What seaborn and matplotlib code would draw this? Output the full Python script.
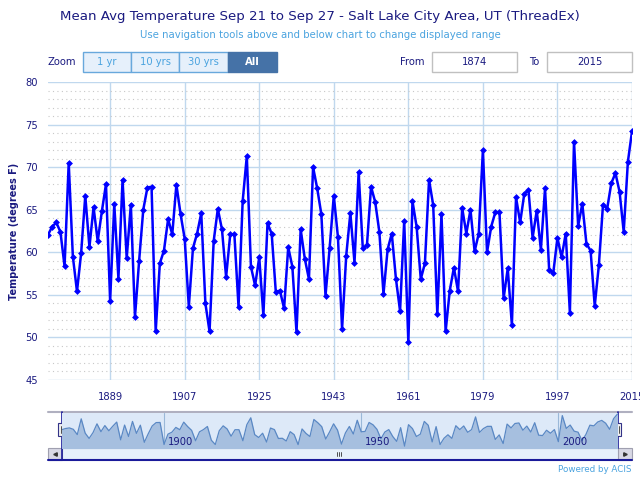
import matplotlib
matplotlib.use("Agg")
import matplotlib.pyplot as plt
import matplotlib.patches as mpatches
import numpy as np
import pandas as pd
import seaborn as sns

# Mean avg temperature Sep 21-27, Salt Lake City Area
years = list(range(1874, 2016))
temps = [
    62.05, 63.0, 63.5, 62.4, 58.35, 70.5, 59.5, 55.4, 59.9, 66.65,
    60.6, 65.3, 61.3, 64.8, 68.0, 54.3, 65.7, 56.9, 68.5, 59.3,
    65.6, 52.4, 59.0, 65.0, 67.6, 67.7, 50.7, 58.7, 60.2, 63.9,
    62.1, 67.95, 64.5, 61.6, 53.6, 60.5, 62.2, 64.6, 54.0, 50.7,
    61.3, 65.1, 62.7, 57.1, 62.1, 62.1, 53.6, 66.0, 71.3, 58.3,
    56.1, 59.4, 52.6, 63.4, 62.2, 55.35, 55.5, 53.4, 60.6, 58.3,
    50.6, 62.7, 59.25, 56.85, 70.0, 67.5, 64.45, 54.9, 60.5, 66.65,
    61.8, 51.0, 59.6, 64.6, 58.8, 69.4, 60.5, 60.8, 67.7, 65.9,
    62.4, 55.1, 60.35, 62.2, 56.9, 53.1, 63.7, 49.45, 66.0, 63.0,
    56.85, 58.7, 68.5, 65.55, 52.7, 64.5, 50.7, 55.5, 58.2, 55.4,
    65.2, 62.2, 65.0, 60.1, 62.2, 72.0, 60.0, 63.0, 64.7, 64.7,
    54.6, 58.1, 51.45, 66.45, 63.5, 66.9, 67.3, 61.7, 64.9, 60.3,
    67.5, 57.9, 57.6, 61.7, 59.4, 62.2, 52.9, 73.0, 63.1, 65.7,
    61.0, 60.2, 53.7, 58.5, 65.6, 65.1, 68.1, 69.3, 67.1, 62.4,
    70.6, 74.2,
]
x_ticks = [1889, 1907, 1925, 1943, 1961, 1979, 1997, 2015]
y_ticks = [45, 50, 55, 60, 65, 70, 75, 80]
nav_ticks = [1900, 1950, 2000]
zoom_buttons = ["1 yr", "10 yrs", "30 yrs", "All"]
range_from, range_to = "1874", "2015"

df = pd.DataFrame({"year": years, "temp": temps})

NAVY = "#1a1a80"
LIGHT = "#4aa3df"
GRID = "#c0d8ee"
W, H = 640, 478
FS = 7.2

sns.set_style("white")
plt.rcParams["font.family"] = ["DejaVu Sans"]

fig = plt.figure(figsize=(W / 100, H / 100), dpi=100)


def px_axes(x0, y0, x1, y1, **kw):
    # axes placed in pixel coordinates (top-left origin)
    return fig.add_axes([x0 / W, 1 - y1 / H, (x1 - x0) / W, (y1 - y0) / H], **kw)


# overlay for the UI widgets, in pixel space
ui = px_axes(0, 0, W, H)
ui.set_xlim(0, W)
ui.set_ylim(H, 0)
ui.axis("off")

fig.text(0.5, 1 - 16.5 / H, "Mean Avg Temperature Sep 21 to Sep 27 - Salt Lake City Area, UT (ThreadEx)",
         ha="center", va="center", fontsize=9.6, color=NAVY)
fig.text(0.5, 1 - 34.5 / H, "Use navigation tools above and below chart to change displayed range",
         ha="center", va="center", fontsize=7.3, color=LIGHT)

# zoom buttons
ui.text(62, 62, "Zoom", ha="center", va="center", fontsize=FS, color=NAVY)
bx = [83, 131, 179, 228, 277]
for i, lab in enumerate(zoom_buttons):
    active = lab == "All"
    ui.add_patch(mpatches.Rectangle((bx[i], 52), bx[i + 1] - bx[i], 20,
                                    facecolor="#4572a7" if active else "#e6f0fb",
                                    edgecolor="#4572a7" if active else "#68a8dc", lw=1))
    ui.text((bx[i] + bx[i + 1]) / 2, 62, lab, ha="center", va="center", fontsize=FS,
            color="white" if active else LIGHT, fontweight="bold" if active else "normal")

# range inputs
ui.text(412, 62, "From", ha="center", va="center", fontsize=FS, color=NAVY)
ui.add_patch(mpatches.Rectangle((432, 52), 85, 20, facecolor="white", edgecolor="#c0c0c0", lw=1))
ui.text(474.5, 62, range_from, ha="center", va="center", fontsize=FS, color=NAVY)
ui.text(534, 62, "To", ha="center", va="center", fontsize=FS, color=NAVY)
ui.add_patch(mpatches.Rectangle((547, 52), 85, 20, facecolor="white", edgecolor="#c0c0c0", lw=1))
ui.text(589.5, 62, range_to, ha="center", va="center", fontsize=FS, color=NAVY)

# main chart
ax = px_axes(48, 82, 632, 380)
ax.set_facecolor("none")
sns.lineplot(data=df, x="year", y="temp", ax=ax, color="#0000ff", lw=1.8,
             marker="D", markersize=3.5, markeredgewidth=0, zorder=3)
ax.set_xlim(1874, 2015)
ax.set_ylim(45, 80)
ax.set_xticks(x_ticks)
ax.set_yticks(y_ticks)
ax.set_yticks(np.arange(45, 81, 1), minor=True)
ax.grid(which="major", axis="both", color=GRID, lw=1)
ax.grid(which="minor", axis="y", color="#c8c8c8", lw=0.8, ls=(0, (1, 3)))
ax.tick_params(which="both", length=0, labelsize=FS, labelcolor=NAVY)
ax.tick_params(axis="x", pad=9)
ax.tick_params(axis="y", pad=7)
for s in ax.spines.values():
    s.set_visible(False)
ax.set_xlabel("")
ax.set_ylabel("Temperature (degrees F)", fontsize=7.0, color=NAVY, fontweight="bold", labelpad=5)

# navigator
ui.plot([48, 632], [412, 412], color="#b0b0c0", lw=1.5)
ui.add_patch(mpatches.Rectangle((61.5, 448), 556, 12, facecolor="#e6f0fb", edgecolor="none"))
ui.add_patch(mpatches.Rectangle((48, 448), 13.5, 12, facecolor="#d8d8e4", edgecolor="#a0a0b0", lw=0.8))
ui.add_patch(mpatches.Rectangle((617.5, 448), 14.5, 12, facecolor="#d8d8e4", edgecolor="#a0a0b0", lw=0.8))
ui.plot([54.5], [454], marker="<", ms=2.5, color="#333333")
ui.plot([625], [454], marker=">", ms=2.5, color="#333333")
for xx in (337, 339, 341):
    ui.plot([xx, xx], [452, 456], color="#333333", lw=0.6)
ui.plot([48, 632], [460, 460], color="#1a1a9a", lw=1.5)
ui.plot([61.5, 617.5], [448, 448], color="#8090b0", lw=0.8)

nav = px_axes(61.5, 413, 617.5, 448)
nav.set_facecolor("#dde9f8")
nav.fill_between(df["year"], df["temp"], 45, color="#a6bfdf", lw=0)
sns.lineplot(data=df, x="year", y="temp", ax=nav, color="#5a88c4", lw=0.9)
nav.set_xlim(1874, 2015)
nav.set_ylim(48, 75)
nav.set_xticks(nav_ticks)
nav.grid(axis="x", color="#9ab8d8", lw=0.8)
nav.set_yticks([])
nav.set_xticklabels([])
nav.tick_params(length=0)
nav.set_xlabel("")
nav.set_ylabel("")
for s in nav.spines.values():
    s.set_visible(False)
for t in nav_ticks:
    nav.text(t + 1, 49, str(t), fontsize=FS, color=NAVY, va="bottom", ha="left")
ui.plot([61.5, 61.5], [412, 460], color="#1a1a9a", lw=1.2)
ui.plot([617.5, 617.5], [412, 448], color="#1a1a9a", lw=1.2)
for hx in (61.5, 617.5):
    ui.add_patch(mpatches.Rectangle((hx - 3.5, 423), 7, 13, facecolor="#f0f0f0",
                                    edgecolor="#333388", lw=0.8, zorder=5))
    ui.plot([hx - 1, hx - 1], [426, 433], color="#333333", lw=0.6, zorder=6)
    ui.plot([hx + 1, hx + 1], [426, 433], color="#333333", lw=0.6, zorder=6)

ui.text(632, 470, "Powered by ACIS", ha="right", va="center", fontsize=6.3, color=LIGHT)

fig.savefig("out.png", dpi=100)
